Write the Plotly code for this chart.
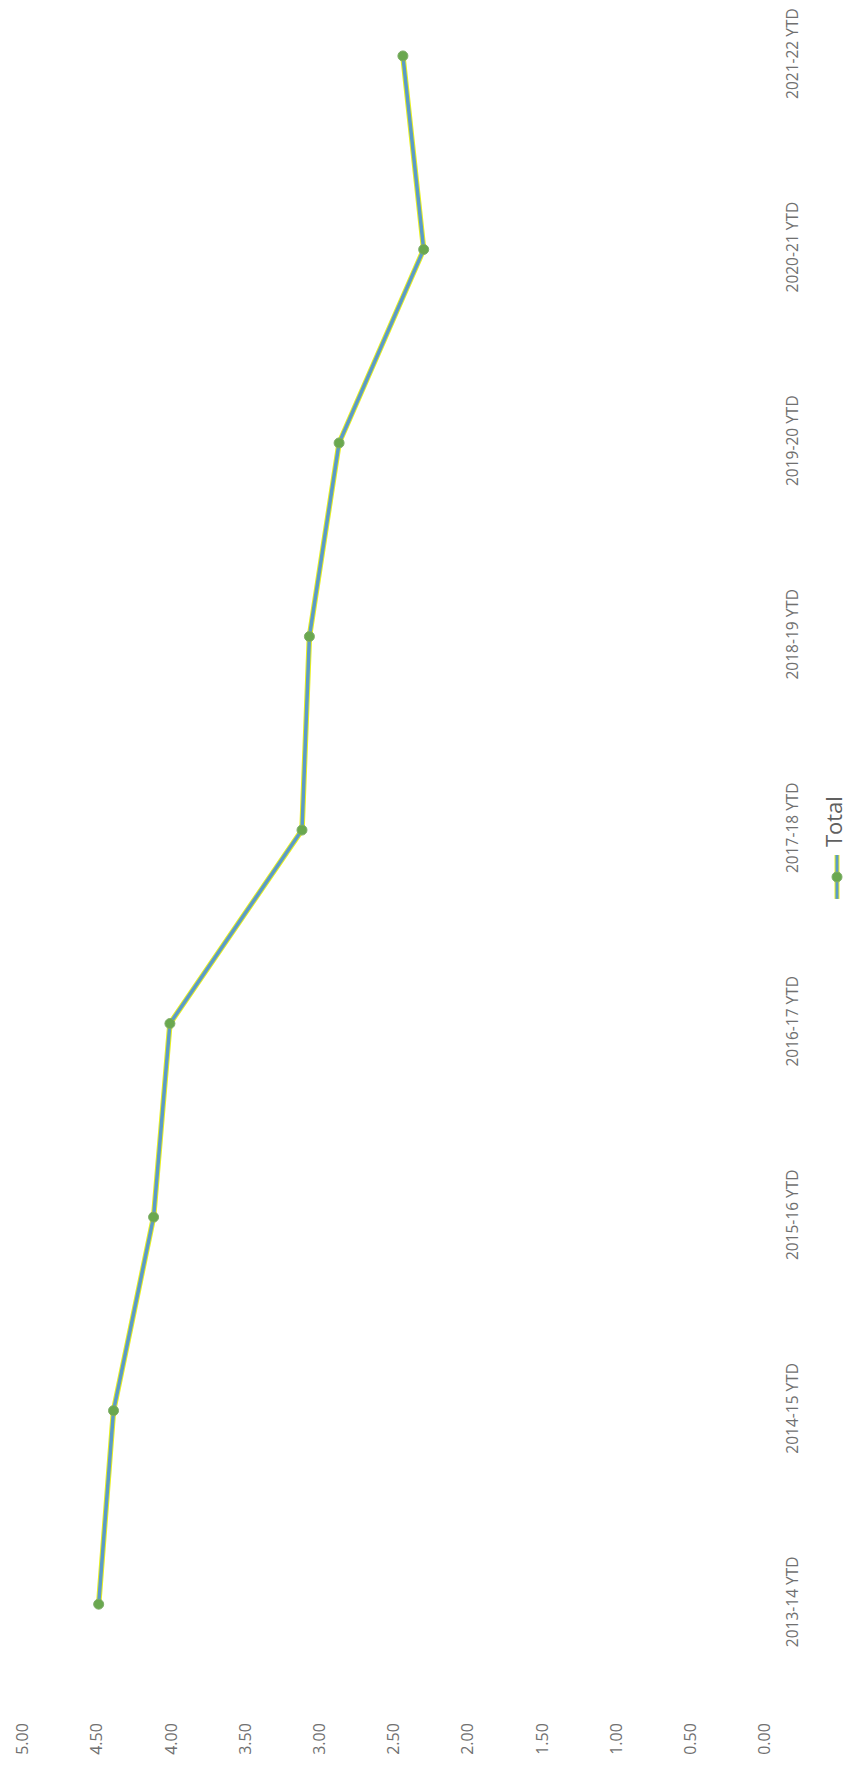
import plotly.graph_objects as go

categories = ["2013-14 YTD", "2014-15 YTD", "2015-16 YTD", "2016-17 YTD", "2017-18 YTD",
              "2018-19 YTD", "2019-20 YTD", "2020-21 YTD", "2021-22 YTD"]
values = [4.49, 4.39, 4.12, 4.01, 3.12, 3.07, 2.87, 2.30, 2.44]
value_ticks = [0, 0.5, 1, 1.5, 2, 2.5, 3, 3.5, 4, 4.5, 5]
series_name = "Total"

# page has an 8px body margin; figure sized to fit inside the window
W, H = 843, 1750
L, R, T, B = 15, 86, 0, 53
PW, PH = W - L - R, H - T - B

FONT = "Open Sans"
TXT = "#707070"
BLUE = "#5b9bc8"
YEL = "#e8f020"
GRN = "#6aa84f"

idx = list(range(len(categories)))

fig = go.Figure()
fig.add_trace(go.Scatter(x=values, y=idx, mode="lines", line=dict(color=YEL, width=5.5),
                         hoverinfo="skip", showlegend=False))
fig.add_trace(go.Scatter(x=values, y=idx, mode="lines+markers", name=series_name,
                         line=dict(color=BLUE, width=3.5),
                         marker=dict(color=GRN, size=10, line=dict(color="#7fae6a", width=1)),
                         showlegend=False))

fig.update_layout(
    width=W, height=H,
    margin=dict(l=L, r=R, t=T, b=B),
    paper_bgcolor="white", plot_bgcolor="white",
    font=dict(family=FONT, color=TXT, size=16),
    xaxis=dict(range=[5, 0], tickvals=value_ticks, tickformat=".2f", tickangle=-90,
               showgrid=False, zeroline=False, showline=False, ticks="",
               ticklabelstandoff=14, ticklabeloverflow="allow", tickfont=dict(size=16, color=TXT)),
    yaxis=dict(range=[-0.521, 8.227], tickvals=idx, ticktext=categories, side="right",
               tickangle=-90, showgrid=False, zeroline=False, showline=False, ticks="",
               ticklabelstandoff=16, ticklabeloverflow="allow", tickfont=dict(size=15.5, color=TXT)),
)

def px(x):
    return (x - L) / PW

def py(y):
    return (H - B - y) / PH

# legend (rotated, drawn manually)
fig.add_annotation(x=px(825), y=py(812), xref="paper", yref="paper", text=series_name,
                   textangle=-90, showarrow=False, font=dict(size=22, color="#606060", family=FONT),
                   xanchor="center", yanchor="middle")
fig.add_shape(type="line", xref="paper", yref="paper", x0=px(829), x1=px(829), y0=py(845), y1=py(889),
              line=dict(color=YEL, width=5))
fig.add_shape(type="line", xref="paper", yref="paper", x0=px(829), x1=px(829), y0=py(845), y1=py(889),
              line=dict(color=BLUE, width=3))
fig.add_shape(type="circle", xref="paper", yref="paper", xsizemode="pixel", ysizemode="pixel",
              xanchor=px(829), yanchor=py(867), x0=-5, x1=5, y0=-5, y1=5,
              fillcolor=GRN, line=dict(color="#7fae6a", width=1))

fig.write_html("out.html")
